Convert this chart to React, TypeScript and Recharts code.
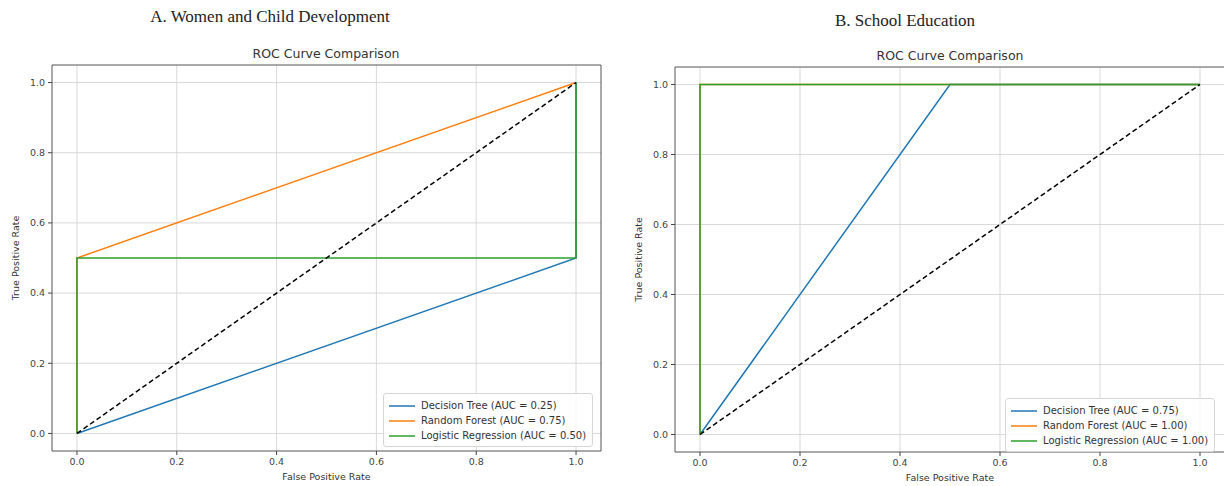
import {
  LineChart,
  Line,
  XAxis,
  YAxis,
  CartesianGrid,
  Legend,
  ReferenceArea,
} from "recharts";

/* ------------------------------------------------------------------ */
/* Data */
/* ------------------------------------------------------------------ */

interface RocPoint {
  fpr: number;
  tpr: number;
}

const rateTicks = [0, 0.2, 0.4, 0.6, 0.8, 1.0];
const rateDomain: [number, number] = [-0.05, 1.05];

const modelNames = ["Decision Tree", "Random Forest", "Logistic Regression"];
const modelColors = ["#1f77b4", "#ff7f0e", "#2ca02c"];

// A. Women and Child Development
const wcdDecisionTree: RocPoint[] = [
  { fpr: 0, tpr: 0 },
  { fpr: 1, tpr: 0.5 },
  { fpr: 1, tpr: 1 },
];
const wcdRandomForest: RocPoint[] = [
  { fpr: 0, tpr: 0 },
  { fpr: 0, tpr: 0.5 },
  { fpr: 1, tpr: 1 },
];
const wcdLogistic: RocPoint[] = [
  { fpr: 0, tpr: 0 },
  { fpr: 0, tpr: 0.5 },
  { fpr: 1, tpr: 0.5 },
  { fpr: 1, tpr: 1 },
];
const wcdAuc = [0.25, 0.75, 0.5];

// B. School Education
const schoolDecisionTree: RocPoint[] = [
  { fpr: 0, tpr: 0 },
  { fpr: 0.5, tpr: 1 },
  { fpr: 1, tpr: 1 },
];
const schoolRandomForest: RocPoint[] = [
  { fpr: 0, tpr: 0 },
  { fpr: 0, tpr: 1 },
  { fpr: 1, tpr: 1 },
];
const schoolLogistic: RocPoint[] = [
  { fpr: 0, tpr: 0 },
  { fpr: 0, tpr: 1 },
  { fpr: 1, tpr: 1 },
];
const schoolAuc = [0.75, 1.0, 1.0];

const chanceLine: RocPoint[] = [
  { fpr: 0, tpr: 0 },
  { fpr: 1, tpr: 1 },
];

/* ------------------------------------------------------------------ */
/* Legend */
/* ------------------------------------------------------------------ */

const makeLegend = (auc: number[]) => () => (
  <div
    style={{
      border: "1px solid #d6d6d6",
      borderRadius: 3,
      background: "rgba(255,255,255,0.85)",
      padding: "4px 6px 3px 5px",
      fontFamily: "DejaVu Sans",
      fontSize: 10,
      color: "#333",
      whiteSpace: "nowrap",
    }}
  >
    {modelNames.map((name, i) => (
      <div
        key={name}
        style={{ display: "flex", alignItems: "center", height: 15 }}
      >
        <svg width={26} height={6} style={{ marginRight: 6 }}>
          <line
            x1={0}
            y1={3}
            x2={26}
            y2={3}
            stroke={modelColors[i]}
            strokeWidth={1.5}
          />
        </svg>
        {`${name} (AUC = ${auc[i].toFixed(2)})`}
      </div>
    ))}
  </div>
);

/* ------------------------------------------------------------------ */
/* One ROC panel */
/* ------------------------------------------------------------------ */

interface PanelProps {
  width: number;
  margin: { top: number; right: number; bottom: number; left: number };
  series: RocPoint[][];
  auc: number[];
  legendPos: { left: number; top: number };
}

const tickStyle = { fontFamily: "DejaVu Sans", fontSize: 9.5, fill: "#444" };
const labelStyle = { fontFamily: "DejaVu Sans", fontSize: 9.5, fill: "#333" };

const RocPanel = ({ width, margin, series, auc, legendPos }: PanelProps) => (
  <LineChart width={width} height={486} margin={margin}>
    <CartesianGrid
      stroke="#cfcfcf"
      strokeWidth={0.8}
      horizontalValues={rateTicks}
      verticalValues={rateTicks}
    />
    <XAxis
      dataKey="fpr"
      type="number"
      domain={rateDomain}
      ticks={rateTicks}
      tickFormatter={(v: number) => v.toFixed(1)}
      tick={tickStyle}
      tickSize={4}
      tickMargin={3}
      axisLine={false}
      tickLine={{ stroke: "#444" }}
      height={30}
      label={{
        value: "False Positive Rate",
        position: "insideBottom",
        offset: 1,
        style: labelStyle,
      }}
    />
    <YAxis
      dataKey="tpr"
      type="number"
      domain={rateDomain}
      ticks={rateTicks}
      tickFormatter={(v: number) => v.toFixed(1)}
      tick={tickStyle}
      tickSize={4}
      tickMargin={3}
      axisLine={false}
      tickLine={{ stroke: "#444" }}
      width={40}
      label={{
        value: "True Positive Rate",
        angle: -90,
        position: "insideLeft",
        offset: 4,
        style: { ...labelStyle, textAnchor: "middle" },
      }}
    />
    <ReferenceArea
      x1={rateDomain[0]}
      x2={rateDomain[1]}
      y1={rateDomain[0]}
      y2={rateDomain[1]}
      fill="none"
      stroke="#555"
      strokeWidth={1}
    />
    {series.map((pts, i) => (
      <Line
        key={modelNames[i]}
        data={pts}
        dataKey="tpr"
        name={modelNames[i]}
        type="linear"
        stroke={modelColors[i]}
        strokeWidth={1.5}
        dot={false}
        activeDot={false}
        isAnimationActive={false}
      />
    ))}
    <Line
      data={chanceLine}
      dataKey="tpr"
      name="Chance"
      type="linear"
      stroke="#000"
      strokeWidth={1.5}
      strokeDasharray="5 3"
      dot={false}
      activeDot={false}
      legendType="none"
      isAnimationActive={false}
    />
    <Legend
      layout="vertical"
      align="center"
      verticalAlign="middle"
      wrapperStyle={{ left: legendPos.left, top: legendPos.top, width: "auto" }}
      content={makeLegend(auc)}
    />
  </LineChart>
);

/* ------------------------------------------------------------------ */
/* App */
/* ------------------------------------------------------------------ */

const App = () => (
  <div
    style={{
      position: "absolute",
      left: 0,
      top: 0,
      width: 1224,
      height: 486,
      overflow: "hidden",
      background: "#fff",
    }}
  >
    <div
      style={{
        position: "absolute",
        left: 70,
        top: 7,
        width: 400,
        textAlign: "center",
        fontFamily: "Liberation Serif",
        fontSize: 17,
        color: "#222",
      }}
    >
      A. Women and Child Development
    </div>
    <div
      style={{
        position: "absolute",
        left: 705,
        top: 11,
        width: 400,
        textAlign: "center",
        fontFamily: "Liberation Serif",
        fontSize: 17,
        color: "#222",
      }}
    >
      B. School Education
    </div>
    <div
      style={{
        position: "absolute",
        left: 226,
        top: 46,
        width: 200,
        textAlign: "center",
        fontFamily: "DejaVu Sans",
        fontSize: 12.5,
        color: "#333",
      }}
    >
      ROC Curve Comparison
    </div>
    <div
      style={{
        position: "absolute",
        left: 850,
        top: 48,
        width: 200,
        textAlign: "center",
        fontFamily: "DejaVu Sans",
        fontSize: 12.5,
        color: "#333",
      }}
    >
      ROC Curve Comparison
    </div>

    <div style={{ position: "absolute", left: 0, top: 0 }}>
      <RocPanel
        width={612}
        margin={{ top: 65, right: 11, bottom: 5, left: 12 }}
        series={[wcdDecisionTree, wcdRandomForest, wcdLogistic]}
        auc={wcdAuc}
        legendPos={{ left: 383, top: 393 }}
      />
    </div>
    <div style={{ position: "absolute", left: 612, top: 0 }}>
      <RocPanel
        width={614}
        margin={{ top: 67, right: 1, bottom: 4, left: 23 }}
        series={[schoolDecisionTree, schoolRandomForest, schoolLogistic]}
        auc={schoolAuc}
        legendPos={{ left: 393, top: 398 }}
      />
    </div>
  </div>
);

export default App;
